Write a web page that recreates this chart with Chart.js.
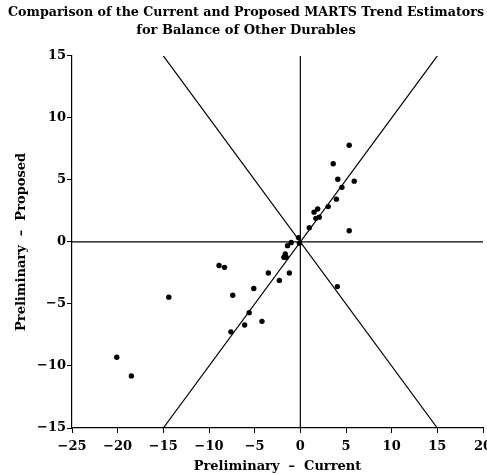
<!DOCTYPE html>
<html>
<head>
<meta charset="utf-8">
<script src="https://cdn.jsdelivr.net/npm/chart.js@4"></script>
<style>
  html, body { margin: 0; padding: 0; background: #fff; }
  #wrap { width: 487px; height: 474px; }
</style>
</head>
<body>
<div id="wrap"><canvas id="martsChart"></canvas></div>
<script>
// ============================
// DATA
// ============================
const prelimCurrent = [
  5.35, 3.6, 4.1, 5.9, 4.55, 3.95, 3.05, 1.9, 1.5, 2.07, 1.7, 0.98, 5.35,
  -0.2, -0.1, -1.0, -1.4, -1.65, -1.8, -1.55, -8.9, -8.3, -3.5, -1.2, -2.3,
  -5.1, -7.4, -5.6, -4.2, -6.1, -7.6, -14.4, -20.1, -18.5, 4.05
];
const prelimProposed = [
  7.8, 6.3, 5.05, 4.9, 4.4, 3.45, 2.85, 2.65, 2.4, 2.0, 1.9, 1.15, 0.9,
  0.35, -0.1, -0.05, -0.3, -0.97, -1.23, -1.23, -1.9, -2.05, -2.5, -2.5, -3.1,
  -3.75, -4.3, -5.7, -6.4, -6.7, -7.25, -4.45, -9.3, -10.8, -3.6
];

// reference lines: y = x, y = -x, x = 0, y = 0
const diagUp = [[-15, -15], [15, 15]];
const diagDown = [[-15, 15], [15, -15]];
const vertZero = [[0, -15], [0, 15]];
const horizZero = [[-25, 0], [20, 0]];

const xRange = [-25, 20];
const yRange = [-15, 15];
const tickStep = 5;

const titleLines = [
  "Comparison of the Current and Proposed MARTS Trend Estimators",
  "for Balance of Other Durables"
];
const xTitle = "Preliminary  \u2013  Current";
const yTitle = "Preliminary  \u2013  Proposed";

// ============================
// HELPERS
// ============================
function toPoints(pairs) {
  return pairs.map((p) => ({ x: p[0], y: p[1] }));
}

function minusLabel(v) {
  return v < 0 ? "\u2212" + Math.abs(v) : String(v);
}

function refLine(pairs) {
  return {
    type: "line",
    data: toPoints(pairs),
    borderColor: "#000",
    borderWidth: 1.2,
    pointRadius: 0,
    fill: false,
    tension: 0,
  };
}

const serif = "'DejaVu Serif', 'Liberation Serif', serif";

// ============================
// CHART
// ============================
const scatterData = prelimCurrent.map((x, i) => ({ x: x, y: prelimProposed[i] }));

new Chart(document.getElementById("martsChart"), {
  type: "scatter",
  data: {
    datasets: [
      {
        data: scatterData,
        backgroundColor: "#000",
        borderColor: "#000",
        pointRadius: 2.7,
        pointBorderWidth: 0,
      },
      refLine(diagUp),
      refLine(diagDown),
      refLine(vertZero),
      refLine(horizZero),
    ],
  },
  options: {
    responsive: true,
    maintainAspectRatio: false,
    animation: false,
    layout: { padding: { left: 8, right: 3, top: 0, bottom: 0 } },
    plugins: {
      legend: { display: false },
      tooltip: { enabled: false },
      title: {
        display: true,
        text: titleLines,
        color: "#000",
        font: { family: serif, size: 13, weight: "bold", lineHeight: 1.38 },
        padding: { top: 4, bottom: 16 },
      },
    },
    scales: {
      x: {
        type: "linear",
        min: xRange[0],
        max: xRange[1],
        ticks: {
          stepSize: tickStep,
          color: "#000",
          font: { family: serif, size: 13, weight: "bold" },
          padding: 6,
          maxRotation: 0,
          callback: minusLabel,
        },
        grid: { display: true, drawOnChartArea: false, color: "#000", tickLength: 5 },
        border: { display: true, color: "#000", width: 1.2 },
        title: {
          display: true,
          text: xTitle,
          color: "#000",
          font: { family: serif, size: 13, weight: "bold" },
          padding: { top: 0, bottom: 0 },
        },
        afterFit: function (scale) {
          scale.height = 46;
          scale.paddingLeft = 0;
          scale.paddingRight = 0;
        },
      },
      y: {
        type: "linear",
        min: yRange[0],
        max: yRange[1],
        ticks: {
          stepSize: tickStep,
          color: "#000",
          font: { family: serif, size: 13, weight: "bold" },
          padding: 1,
          callback: minusLabel,
        },
        grid: { display: true, drawOnChartArea: false, color: "#000", tickLength: 5 },
        border: { display: true, color: "#000", width: 1.2 },
        title: {
          display: true,
          text: yTitle,
          color: "#000",
          font: { family: serif, size: 13, weight: "bold" },
          padding: { top: 6, bottom: 0 },
        },
        afterFit: function (scale) {
          scale.width = 64;
        },
      },
    },
  },
});
</script>
</body>
</html>
